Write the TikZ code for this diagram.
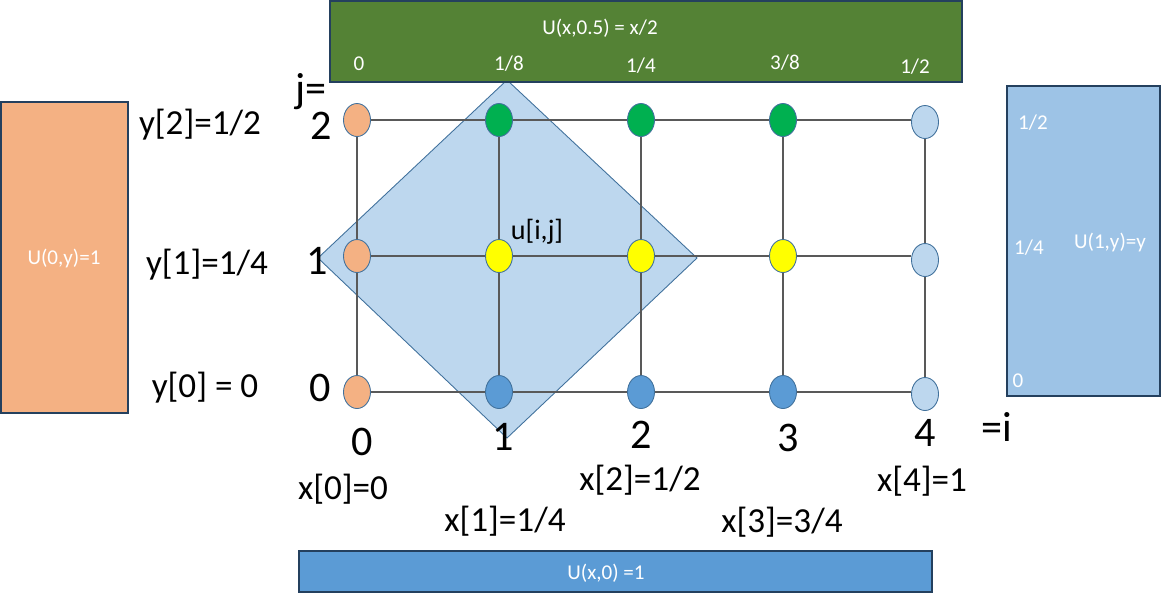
\documentclass[tikz,border=0pt]{standalone}
\usepackage{fontspec}
\setmainfont{Carlito}
\usetikzlibrary{shapes.geometric}
\definecolor{edgeblue}{HTML}{41719C}
\definecolor{edgedark}{HTML}{24405E}
\definecolor{boxgreen}{HTML}{548235}
\definecolor{boxorange}{HTML}{F4B183}
\definecolor{boxlight}{HTML}{9DC3E6}
\definecolor{boxblue}{HTML}{5B9BD5}
\definecolor{ptgreen}{HTML}{00B050}
\definecolor{ptyellow}{HTML}{FFFF00}
\definecolor{ptlight}{HTML}{BDD7EE}
\definecolor{diamfill}{HTML}{BDD7EE}
\definecolor{gridgray}{HTML}{595959}
\begin{document}
\begin{tikzpicture}[x=0.02cm,y=-0.02cm,
  bnd/.style={draw=edgedark,line width=0.8pt,inner sep=0pt},
  pt/.style={ellipse,draw=edgeblue,line width=0.5pt,inner sep=0pt,minimum width=0.54cm,minimum height=0.66cm},
  gl/.style={draw=gridgray,line width=0.7pt},
  wt/.style={text=white,font=\fontsize{12}{14}\selectfont,inner sep=0pt},
  idx/.style={font=\fontsize{24}{28}\selectfont,inner sep=0pt},
  lab/.style={font=\fontsize{20}{24}\selectfont,inner sep=0pt}]
\useasboundingbox (0,0) rectangle (1164,600);
% shaded stencil
\draw[fill=diamfill,draw=edgeblue,line width=0.5pt] (318,258) -- (507,80) -- (697,258) -- (507,438) -- cycle;
% boundary boxes
\node[bnd,fill=boxgreen,minimum width=12.64cm,minimum height=1.62cm] (top) at (646,41.5) {};
\node[bnd,fill=boxorange,minimum width=2.54cm,minimum height=6.22cm] (left) at (64.5,257.5) {};
\node[bnd,fill=boxlight,minimum width=3.06cm,minimum height=6.2cm] (right) at (1083.5,241) {};
\node[bnd,fill=boxblue,minimum width=12.66cm,minimum height=0.82cm] (bottom) at (615.5,571.5) {};
% grid points
\node[pt,fill=boxorange] (p00) at (357,392) {};
\node[pt,fill=boxorange] (p01) at (357,256) {};
\node[pt,fill=boxorange] (p02) at (357,120) {};
\node[pt,fill=boxblue] (p10) at (499,392) {};
\node[pt,fill=ptyellow] (p11) at (499,256) {};
\node[pt,fill=ptgreen] (p12) at (499,120) {};
\node[pt,fill=boxblue] (p20) at (641,392) {};
\node[pt,fill=ptyellow] (p21) at (641,256) {};
\node[pt,fill=ptgreen] (p22) at (641,120) {};
\node[pt,fill=boxblue] (p30) at (783,392) {};
\node[pt,fill=ptyellow] (p31) at (783,256) {};
\node[pt,fill=ptgreen] (p32) at (783,120) {};
\node[pt,fill=ptlight] (p40) at (925,394) {};
\node[pt,fill=ptlight] (p41) at (925,260) {};
\node[pt,fill=ptlight] (p42) at (925,122) {};
% grid lines
\foreach \r/\y in {0/392,1/256,2/120}{
  \draw[gl] (p0\r) -- (p1\r);
  \draw[gl] (p1\r) -- (p2\r);
  \draw[gl] (p2\r) -- (p3\r);
  \draw[gl] (p3\r) -- (p4\r.west |- 0,\y);
}
\foreach \c in {0,1,2,3,4}{
  \draw[gl] (p\c0) -- (p\c1);
  \draw[gl] (p\c1) -- (p\c2);
}
% box texts
\node[wt] (ttop) at (600,28) {U(x,0.5) = x/2};
\node[wt] (t0) at (359,64) {0};
\node[wt] (t1) at (509,64) {1/8};
\node[wt] (t2) at (641,66) {1/4};
\node[wt] (t3) at (785,63) {3/8};
\node[wt] (t4) at (915,67) {1/2};
\node[wt] (tleft) at (64,258) {U(0,y)=1};
\node[wt] (r2) at (1033,123) {1/2};
\node[wt] (r1) at (1029,248) {1/4};
\node[wt] (r0) at (1018,381) {0};
\node[wt] (tright) at (1110,242) {U(1,y)=y};
\node[wt] (tbottom) at (606,573) {U(x,0) =1};
% index labels
\node[idx] (jeq) at (311,92) {j=};
\node[idx] (j2) at (321,126) {2};
\node[idx] (j1) at (317,261) {1};
\node[idx] (j0) at (320,388) {0};
\node[idx] (i0) at (362,442) {0};
\node[idx] (i1) at (503,437) {1};
\node[idx] (i2) at (641,435) {2};
\node[idx] (i3) at (788,438) {3};
\node[idx] (i4) at (925,433) {4};
\node[idx] (ieq) at (997,427) {=i};
% coordinate labels
\node[lab] (y2) at (200,125) {y[2]=1/2};
\node[lab] (y1) at (207,265) {y[1]=1/4};
\node[lab] (y0) at (205,388) {y[0] = 0};
\node[lab] (x0) at (343,489) {x[0]=0};
\node[lab] (x1) at (505,521) {x[1]=1/4};
\node[lab] (x2) at (640,480) {x[2]=1/2};
\node[lab] (x3) at (782,522) {x[3]=3/4};
\node[lab] (x4) at (922,481) {x[4]=1};
\node[font=\fontsize{16}{19}\selectfont,inner sep=0pt] (uij) at (537,232) {u[i,j]};
\end{tikzpicture}
\end{document}
